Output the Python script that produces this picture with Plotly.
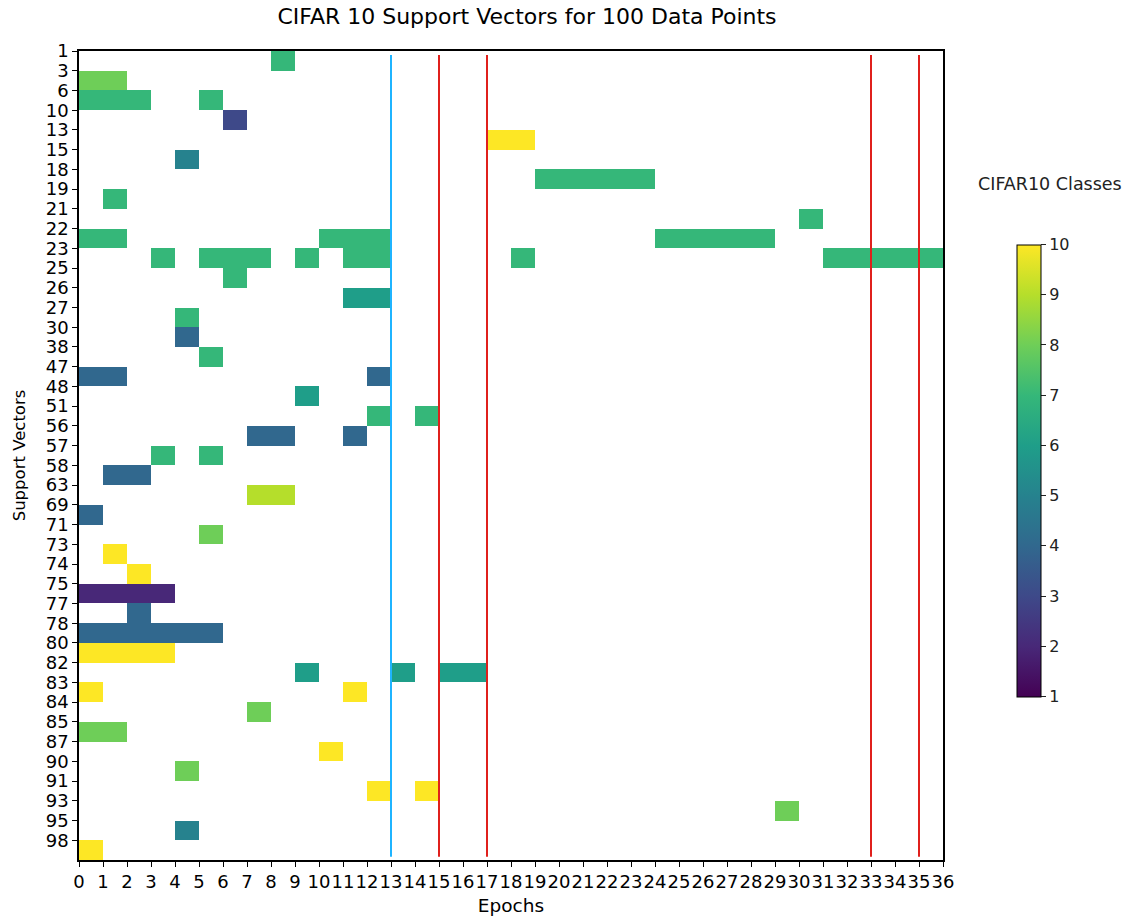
import plotly.graph_objects as go

# ---- data ----
sv_labels = [1, 3, 6, 10, 13, 15, 18, 19, 21, 22, 23, 25, 26, 27, 30, 38, 47, 48, 51, 56,
             57, 58, 63, 69, 71, 73, 74, 75, 77, 78, 80, 82, 83, 84, 85, 87, 90, 91, 93, 95, 98]
n_epochs = 36
epoch_ticks = list(range(0, 37))

# segments: support vector label, first epoch, end epoch (exclusive), CIFAR10 class
seg_label = [1, 3, 6, 6, 10, 13, 15, 18, 19, 21, 22, 22, 22, 23, 23, 23, 23, 23, 23, 25,
             26, 27, 30, 38, 47, 47, 48, 51, 51, 56, 56, 57, 57, 58, 63, 69, 71, 73, 74, 75,
             77, 78, 80, 82, 82, 82, 83, 83, 84, 85, 87, 90, 91, 91, 93, 95, 98]
seg_start = [8, 0, 0, 5, 6, 17, 4, 19, 1, 30, 0, 10, 24, 3, 5, 9, 11, 18, 31, 6,
             11, 4, 4, 5, 0, 12, 9, 12, 14, 7, 11, 3, 5, 1, 7, 0, 5, 1, 2, 0,
             2, 0, 0, 9, 13, 15, 0, 11, 7, 0, 10, 4, 12, 14, 29, 4, 0]
seg_end = [9, 2, 3, 6, 7, 19, 5, 24, 2, 31, 2, 13, 29, 4, 8, 10, 13, 19, 36, 7,
           13, 5, 5, 6, 2, 13, 10, 13, 15, 9, 12, 4, 6, 3, 9, 1, 6, 2, 3, 4,
           3, 6, 4, 10, 14, 17, 1, 12, 8, 2, 11, 5, 13, 15, 30, 5, 1]
seg_class = [7, 8, 7, 7, 3, 10, 5, 7, 7, 7, 7, 7, 7, 7, 7, 7, 7, 7, 7, 7,
             6, 7, 4, 7, 4, 4, 6, 7, 7, 4, 4, 7, 7, 4, 9, 4, 8, 10, 10, 2,
             4, 4, 10, 6, 6, 6, 10, 10, 8, 8, 10, 8, 10, 10, 8, 5, 10]

blue_epochs = [13]
red_epochs = [15, 17, 33, 35]

# ---- build matrix ----
z = [[None] * n_epochs for _ in sv_labels]
for lab, s, e, c in zip(seg_label, seg_start, seg_end, seg_class):
    r = sv_labels.index(lab)
    for ep in range(s, e):
        z[r][ep] = c

FONT = "DejaVu Sans"
W, H = 1142, 920
PL, PR, PT, PB = 79, 943, 51, 860  # plot area in px
PW, PH = PR - PL, PB - PT


def px_x(sx):
    return (sx - PL) / PW


def px_y(sy):
    return (PB - sy) / PH


fig = go.Figure()
fig.add_trace(go.Heatmap(
    z=z,
    x=[ep + 0.5 for ep in range(n_epochs)],
    y=[i + 0.5 for i in range(len(sv_labels))],
    colorscale="Viridis",
    zmin=1, zmax=10,
    hoverongaps=False,
    colorbar=dict(
        x=px_x(1017), xanchor="left", xpad=0,
        y=px_y(470.5), yanchor="middle", ypad=0,
        len=452 / PH, lenmode="fraction",
        thickness=24,
        outlinecolor="black", outlinewidth=1,
        tickvals=list(range(1, 11)),
        ticks="outside", ticklen=5, tickcolor="#222",
        tickfont=dict(family=FONT, size=16, color="#222"),
    ),
))

for ep in blue_epochs:
    fig.add_shape(type="line", xref="x", yref="paper", x0=ep, x1=ep, y0=0.004, y1=0.995,
                  line=dict(color="#1fb4ff", width=2))
for ep in red_epochs:
    fig.add_shape(type="line", xref="x", yref="paper", x0=ep, x1=ep, y0=0.004, y1=0.995,
                  line=dict(color="#e0201c", width=2))

fig.add_annotation(text="CIFAR10 Classes", xref="paper", yref="paper",
                   x=px_x(1050), y=px_y(184), showarrow=False,
                   xanchor="center", yanchor="middle",
                   font=dict(family=FONT, size=17.5, color="#222"))

fig.update_layout(
    width=W, height=H,
    margin=dict(l=PL, r=W - PR, t=PT, b=H - PB, autoexpand=False),
    paper_bgcolor="white", plot_bgcolor="white",
    title=dict(text="CIFAR 10 Support Vectors for 100 Data Points",
               x=527 / W, xanchor="center", y=1 - 16 / H, yanchor="middle",
               font=dict(family=FONT, size=22, color="black")),
    font=dict(family=FONT, color="black"),
)
fig.update_xaxes(
    range=[0, n_epochs], tickvals=epoch_ticks, ticktext=[str(t) for t in epoch_ticks],
    tickangle=0, automargin=False,
    ticks="outside", ticklen=5, tickcolor="black", tickwidth=1.2,
    showline=True, linecolor="black", linewidth=1.5, mirror=True,
    showgrid=False, zeroline=False,
    tickfont=dict(family=FONT, size=18, color="black"),
    title=dict(text="Epochs", font=dict(family=FONT, size=18.5, color="black"), standoff=8),
)
fig.update_yaxes(
    range=[len(sv_labels), 0], tickvals=list(range(len(sv_labels))),
    ticktext=[str(v) for v in sv_labels], automargin=False,
    ticks="outside", ticklen=5, tickcolor="black", tickwidth=1.2,
    showline=True, linecolor="black", linewidth=1.5, mirror=True,
    showgrid=False, zeroline=False,
    tickfont=dict(family=FONT, size=18, color="black"),
    title=dict(text="Support Vectors", font=dict(family=FONT, size=16.5, color="black"), standoff=16),
)

fig.write_html("out.html", config={"displayModeBar": False},
               post_script="document.body.style.margin='0';document.body.style.padding='0';")
